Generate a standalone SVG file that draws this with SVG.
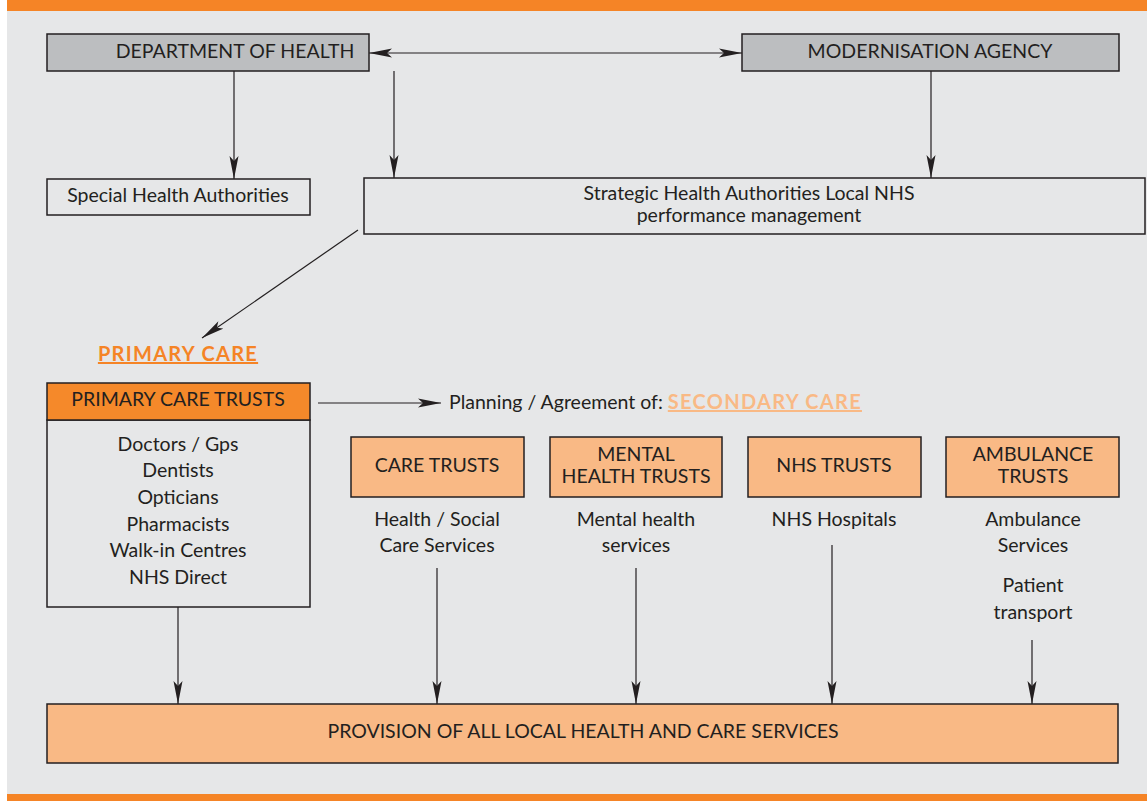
<svg xmlns="http://www.w3.org/2000/svg" width="1147" height="801" viewBox="0 0 1147 801">
  <style>
    .lbl { font-family: Lato, "Open Sans", "Liberation Sans", sans-serif; font-size: 19.5px; fill: #231f20; text-anchor: middle; }
    .start { text-anchor: start; }
    .box { stroke: #231f20; stroke-width: 1.5; }
    .grey { fill: #bcbec0; }
    .plain { fill: #e6e7e8; }
    .lor { fill: #f9b985; }
    .dor { fill: #f5892a; }
    .conn { stroke: #231f20; stroke-width: 1.2; fill: none; marker-end: url(#ah); }
    .head { font-family: Lato, "Open Sans", "Liberation Sans", sans-serif; font-size: 20px; font-weight: bold; letter-spacing: 1.3px; text-decoration: underline; }
  </style>
  <defs>
    <marker id="ah" markerUnits="userSpaceOnUse" markerWidth="24" markerHeight="10" viewBox="0 0 24 10" refX="23" refY="5" orient="auto">
      <path d="M0,0.5 L23,5 L0,9.5 L5,5 Z" fill="#231f20"/>
    </marker>
    <marker id="ahs" markerUnits="userSpaceOnUse" markerWidth="24" markerHeight="10" viewBox="0 0 24 10" refX="23" refY="5" orient="auto-start-reverse">
      <path d="M0,0.5 L23,5 L0,9.5 L5,5 Z" fill="#231f20"/>
    </marker>
  </defs>

  <!-- page background and banding -->
  <rect x="0" y="0" width="1147" height="801" fill="#ffffff"/>
  <rect x="7" y="0" width="1140" height="801" fill="#e6e7e8"/>
  <rect x="7" y="0" width="1140" height="11" fill="#f58426"/>
  <rect x="7" y="794" width="1140" height="7" fill="#f58426"/>

  <g id="connectors">
    <line x1="369" y1="53" x2="742" y2="53" class="conn" marker-start="url(#ahs)"/>
    <line x1="234" y1="71" x2="234" y2="179" class="conn"/>
    <line x1="394" y1="71" x2="394" y2="178" class="conn"/>
    <line x1="931" y1="71" x2="931" y2="178" class="conn"/>
    <line x1="358" y1="230" x2="202" y2="338" class="conn"/>
    <line x1="318" y1="403" x2="441" y2="403" class="conn"/>
    <line x1="178" y1="607" x2="178" y2="704" class="conn"/>
    <line x1="437" y1="568" x2="437" y2="704" class="conn"/>
    <line x1="636" y1="568" x2="636" y2="704" class="conn"/>
    <line x1="832" y1="545" x2="832" y2="704" class="conn"/>
    <line x1="1032" y1="640" x2="1032" y2="704" class="conn"/>
  </g>

  <g id="dept-health">
    <rect x="47" y="34" width="322" height="37" class="box grey"/>
    <text x="235" y="58" class="lbl">DEPARTMENT OF HEALTH</text>
  </g>

  <g id="modernisation-agency">
    <rect x="742" y="34" width="377" height="37" class="box grey"/>
    <text x="930" y="58" class="lbl">MODERNISATION AGENCY</text>
  </g>

  <g id="special-ha">
    <rect x="47" y="179" width="263" height="36" class="box plain"/>
    <text x="178" y="202" class="lbl">Special Health Authorities</text>
  </g>

  <g id="strategic-ha">
    <rect x="364" y="178" width="781" height="56" class="box plain"/>
    <text x="749" y="200" class="lbl">Strategic Health Authorities Local NHS</text>
    <text x="749" y="222" class="lbl">performance management</text>
  </g>

  <g id="primary-care-heading">
    <text x="178" y="361" class="head" text-anchor="middle" fill="#f58426">PRIMARY CARE</text>
  </g>

  <g id="primary-care-trusts">
    <rect x="47" y="420" width="263" height="187" class="box plain"/>
    <rect x="47" y="383" width="263" height="37" class="box dor"/>
    <text x="178" y="406" class="lbl">PRIMARY CARE TRUSTS</text>
    <text x="178" y="451" class="lbl">Doctors / Gps</text>
    <text x="178" y="477" class="lbl">Dentists</text>
    <text x="178" y="504" class="lbl">Opticians</text>
    <text x="178" y="531" class="lbl">Pharmacists</text>
    <text x="178" y="557" class="lbl">Walk-in Centres</text>
    <text x="178" y="584" class="lbl">NHS Direct</text>
  </g>

  <g id="secondary-care-heading">
    <text x="449" y="409" class="lbl start">Planning / Agreement of: <tspan class="head" fill="#f9b985">SECONDARY CARE</tspan></text>
  </g>

  <g id="care-trusts">
    <rect x="351" y="437" width="173" height="60" class="box lor"/>
    <text x="437" y="472" class="lbl">CARE TRUSTS</text>
    <text x="437" y="526" class="lbl">Health / Social</text>
    <text x="437" y="552" class="lbl">Care Services</text>
  </g>

  <g id="mental-health-trusts">
    <rect x="550" y="437" width="172" height="60" class="box lor"/>
    <text x="636" y="461" class="lbl">MENTAL</text>
    <text x="636" y="483" class="lbl">HEALTH TRUSTS</text>
    <text x="636" y="526" class="lbl">Mental health</text>
    <text x="636" y="552" class="lbl">services</text>
  </g>

  <g id="nhs-trusts">
    <rect x="748" y="437" width="173" height="60" class="box lor"/>
    <text x="834" y="472" class="lbl">NHS TRUSTS</text>
    <text x="834" y="526" class="lbl">NHS Hospitals</text>
  </g>

  <g id="ambulance-trusts">
    <rect x="946" y="437" width="173" height="60" class="box lor"/>
    <text x="1033" y="461" class="lbl">AMBULANCE</text>
    <text x="1033" y="483" class="lbl">TRUSTS</text>
    <text x="1033" y="526" class="lbl">Ambulance</text>
    <text x="1033" y="552" class="lbl">Services</text>
    <text x="1033" y="592" class="lbl">Patient</text>
    <text x="1033" y="619" class="lbl">transport</text>
  </g>

  <g id="provision">
    <rect x="47" y="704" width="1071" height="59" class="box lor"/>
    <text x="583" y="738" class="lbl">PROVISION OF ALL LOCAL HEALTH AND CARE SERVICES</text>
  </g>
</svg>
